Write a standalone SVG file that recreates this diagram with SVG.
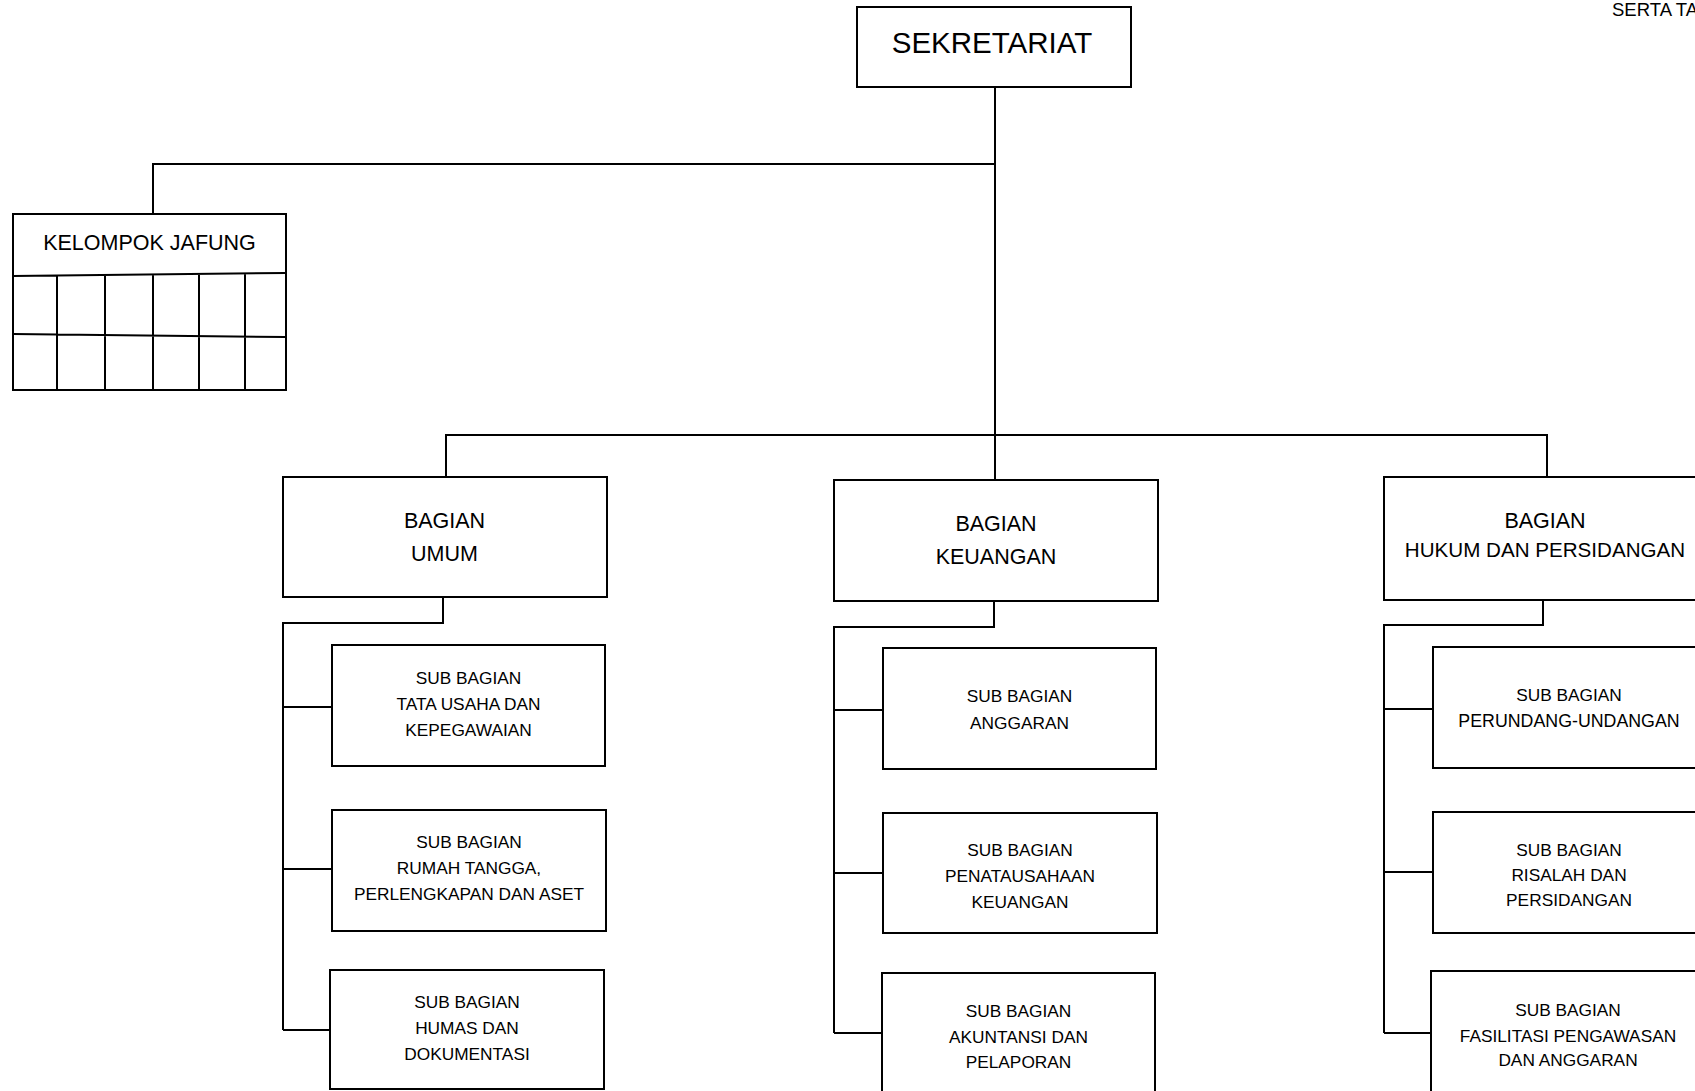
<svg xmlns="http://www.w3.org/2000/svg" width="1695" height="1091" viewBox="0 0 1695 1091">
<style>
.box{fill:#fff;stroke:#000;stroke-width:2}
.ln{fill:none;stroke:#000;stroke-width:2}
text{font-family:"Liberation Sans",Arial,sans-serif;fill:#000;text-anchor:middle}
.t1{font-size:29.5px}
.t2{font-size:21.5px}
.t3{font-size:17.3px}
</style>
<rect width="1695" height="1091" fill="#fff"/>
<text x="1612" y="16" style="text-anchor:start;font-size:18.5px">SERTA TA</text>
<g id="connectors">
<path class="ln" d="M995,87V480"/>
<path class="ln" d="M995,164H153V214"/>
<path class="ln" d="M446,477V435H1547V477"/>
<path class="ln" d="M443,597V623H283V1030"/>
<path class="ln" d="M283,707H332M283,869H332M283,1030H330"/>
<path class="ln" d="M994,601V627H834V1033"/>
<path class="ln" d="M834,710H883M834,873H883M834,1033H882"/>
<path class="ln" d="M1543,600V625H1384V1033"/>
<path class="ln" d="M1384,709H1433M1384,872H1433M1384,1033H1431"/>
</g>
<g id="sekretariat">
<rect class="box" x="857" y="7" width="274" height="80"/>
<text class="t1" x="992" y="53">SEKRETARIAT</text>
</g>
<g id="kelompok-jafung">
<rect class="box" x="13" y="214" width="273" height="176"/>
<path class="ln" d="M13,276L286,273M13,334L286,337M57,275V390M105,275V390M153,274V390M199,274V390M245,273V390"/>
<text class="t2" x="149.5" y="250">KELOMPOK JAFUNG</text>
</g>
<g id="bagian-umum">
<rect class="box" x="283" y="477" width="324" height="120"/>
<text class="t2" x="444.5" y="528">BAGIAN</text>
<text class="t2" x="444.5" y="561">UMUM</text>
</g>
<g id="bagian-keuangan">
<rect class="box" x="834" y="480" width="324" height="121"/>
<text class="t2" x="996" y="531">BAGIAN</text>
<text class="t2" x="996" y="564">KEUANGAN</text>
</g>
<g id="bagian-hukum">
<rect class="box" x="1384" y="477" width="324" height="123"/>
<text class="t2" x="1545" y="528">BAGIAN</text>
<text class="t2" x="1545" y="557" style="font-size:20.6px">HUKUM DAN PERSIDANGAN</text>
</g>
<g id="sub-tu">
<rect class="box" x="332" y="645" width="273" height="121"/>
<text class="t3" x="468.5" y="684">SUB BAGIAN</text>
<text class="t3" x="468.5" y="710">TATA USAHA DAN</text>
<text class="t3" x="468.5" y="736">KEPEGAWAIAN</text>
</g>
<g id="sub-rt">
<rect class="box" x="332" y="810" width="274" height="121"/>
<text class="t3" x="469" y="848">SUB BAGIAN</text>
<text class="t3" x="469" y="874">RUMAH TANGGA,</text>
<text class="t3" x="469" y="900">PERLENGKAPAN DAN ASET</text>
</g>
<g id="sub-humas">
<rect class="box" x="330" y="970" width="274" height="119"/>
<text class="t3" x="467" y="1008">SUB BAGIAN</text>
<text class="t3" x="467" y="1034">HUMAS DAN</text>
<text class="t3" x="467" y="1060">DOKUMENTASI</text>
</g>
<g id="sub-anggaran">
<rect class="box" x="883" y="648" width="273" height="121"/>
<text class="t3" x="1019.5" y="702">SUB BAGIAN</text>
<text class="t3" x="1019.5" y="729">ANGGARAN</text>
</g>
<g id="sub-penatausahaan">
<rect class="box" x="883" y="813" width="274" height="120"/>
<text class="t3" x="1020" y="856">SUB BAGIAN</text>
<text class="t3" x="1020" y="882">PENATAUSAHAAN</text>
<text class="t3" x="1020" y="908">KEUANGAN</text>
</g>
<g id="sub-akuntansi">
<rect class="box" x="882" y="973" width="273" height="130"/>
<text class="t3" x="1018.5" y="1017">SUB BAGIAN</text>
<text class="t3" x="1018.5" y="1043">AKUNTANSI DAN</text>
<text class="t3" x="1018.5" y="1068">PELAPORAN</text>
</g>
<g id="sub-perundangan">
<rect class="box" x="1433" y="647" width="273" height="121"/>
<text class="t3" x="1569" y="701">SUB BAGIAN</text>
<text class="t3" x="1569" y="727" style="font-size:17.8px">PERUNDANG-UNDANGAN</text>
</g>
<g id="sub-risalah">
<rect class="box" x="1433" y="812" width="273" height="121"/>
<text class="t3" x="1569" y="856">SUB BAGIAN</text>
<text class="t3" x="1569" y="881">RISALAH DAN</text>
<text class="t3" x="1569" y="906">PERSIDANGAN</text>
</g>
<g id="sub-fasilitasi">
<rect class="box" x="1431" y="971" width="275" height="130"/>
<text class="t3" x="1568" y="1016">SUB BAGIAN</text>
<text class="t3" x="1568" y="1042">FASILITASI PENGAWASAN</text>
<text class="t3" x="1568" y="1066">DAN ANGGARAN</text>
</g>
</svg>
